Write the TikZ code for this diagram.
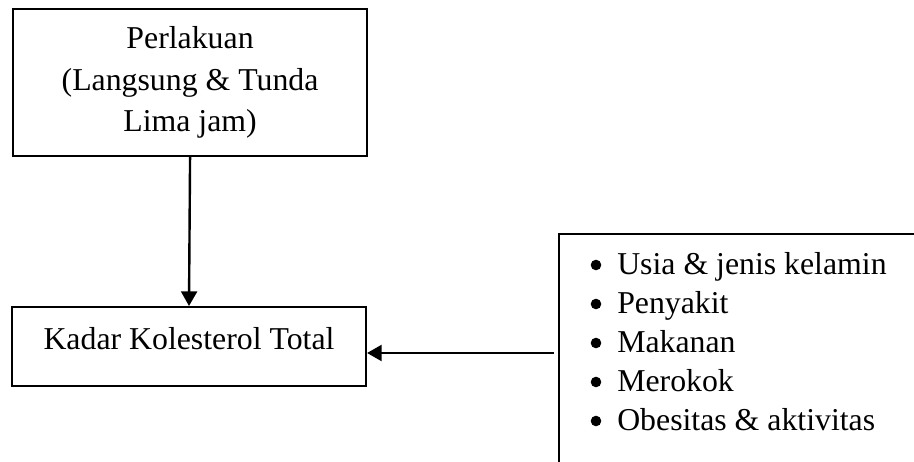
\documentclass[tikz,border=0pt]{standalone}
\usepackage{fontspec}
\setmainfont{Liberation Serif}
\usetikzlibrary{arrows.meta}
\begin{document}
\begin{tikzpicture}[x=0.75pt,y=-0.75pt,
  txt/.style={font=\fontsize{23.85}{31.1}\selectfont},
  box/.style={draw=black,line width=1.6pt,rectangle,inner sep=0pt},
  arr/.style={line width=1.8pt,-{Triangle[length=11pt,width=12pt]}},
  item/.style={txt,anchor=base west,inner sep=0pt},
  dot/.style={fill=black}]
\useasboundingbox[fill=white] (0,0) rectangle (914,461);
\node[box,txt,align=center,minimum width=265.5pt,minimum height=110.25pt,anchor=north west] (treat) at (12,8)
  {Perlakuan\\(Langsung \& Tunda\\Lima jam)};
\node[box,txt,minimum width=265.5pt,text height=31.5pt,text depth=27.75pt,anchor=north] (kadar) at (189,306)
  {Kadar Kolesterol Total};
\begin{scope}
\clip (0,0) rectangle (914,461);
\node[box,minimum width=300pt,minimum height=195pt,anchor=north west] (factors) at (558,233) {};
\end{scope}
\foreach \y in {274,313,352,391,430} \fill[dot] (596,\y-9) circle (5.3);
\node[item] (l1) at (617,274) {Usia \& jenis kelamin};
\node[item] (l2) at (617,313) {Penyakit};
\node[item] (l3) at (617,352) {Makanan};
\node[item] (l4) at (617,391) {Merokok};
\node[item] (l5) at (617,430) {Obesitas \& aktivitas};
\coordinate (src) at (554,353);
\draw[arr] (treat.south) -- (kadar.north);
\draw[arr] (src) -- (src -| kadar.east);
\end{tikzpicture}
\end{document}
